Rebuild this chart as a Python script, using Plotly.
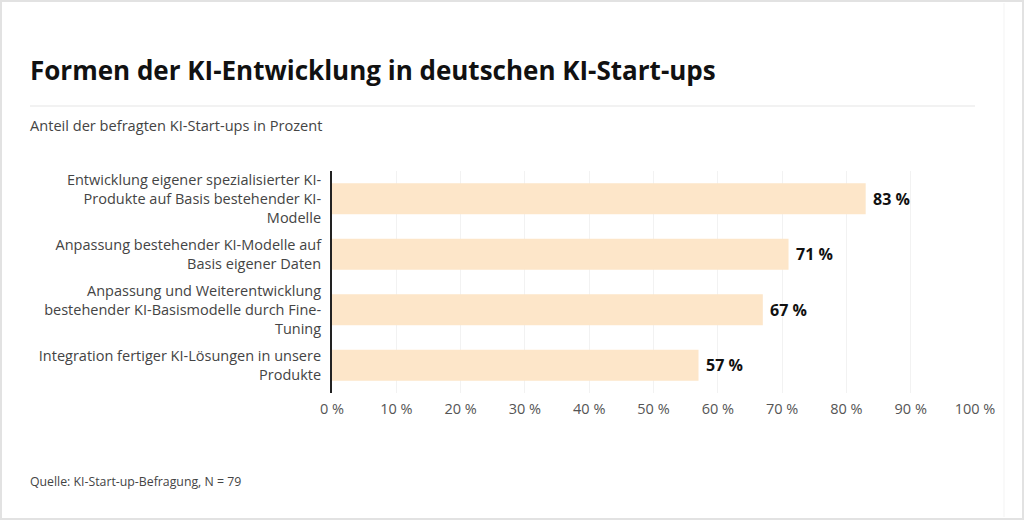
import plotly.graph_objects as go

categories = [
    "Entwicklung eigener spezialisierter KI-<br>Produkte auf Basis bestehender KI-<br>Modelle",
    "Anpassung bestehender KI-Modelle auf<br>Basis eigener Daten",
    "Anpassung und Weiterentwicklung<br>bestehender KI-Basismodelle durch Fine-<br>Tuning",
    "Integration fertiger KI-Lösungen in unsere<br>Produkte",
]
values = [83, 71, 67, 57]
x_ticks = [0, 10, 20, 30, 40, 50, 60, 70, 80, 90, 100]
x_tick_labels = [f"{t} %" for t in x_ticks]

FONT = "Open Sans"
BAR_COLOR = "#fde6c9"

fig = go.Figure()
fig.add_trace(go.Bar(
    x=values, y=categories, orientation="h",
    marker=dict(color=BAR_COLOR, line=dict(width=0)),
    hoverinfo="skip",
))

for c, v in zip(categories, values):
    fig.add_annotation(
        x=v, y=c, xref="x", yref="y", text=f"<b>{v} %</b>",
        showarrow=False, xanchor="left", xshift=5,
        font=dict(family=FONT, size=16, color="#111"),
    )

fig.update_layout(
    width=1024, height=520,
    margin=dict(l=332, r=49, t=171, b=127),
    paper_bgcolor="white", plot_bgcolor="white",
    bargap=0.44,
    showlegend=False,
    font=dict(family=FONT, color="#444"),
    xaxis=dict(
        range=[0, 100], tickvals=x_ticks, ticktext=x_tick_labels,
        showgrid=True, gridcolor="#f2f2f2", gridwidth=1,
        zeroline=False, showline=False, ticks="",
        ticklabelstandoff=5,
        tickfont=dict(family=FONT, size=14.5, color="#555"),
        fixedrange=True,
    ),
    yaxis=dict(
        autorange="reversed", showgrid=False, zeroline=False,
        showline=True, linecolor="#222", linewidth=2, ticks="",
        ticklabelstandoff=6,
        tickfont=dict(family=FONT, size=14.5, color="#444"),
        fixedrange=True,
    ),
    shapes=[
        dict(type="line", xref="paper", yref="paper", x0=-302/643, x1=1.0,
             y0=(520-127-106)/222, y1=(520-127-106)/222,
             line=dict(color="#eeeeee", width=1.5)),
        dict(type="rect", xref="paper", yref="paper",
             x0=-331/643, x1=(1023-332)/643, y0=(520-127-519)/222, y1=(520-127-1)/222,
             line=dict(color="#e2e2e2", width=2)),
        dict(type="line", xref="paper", yref="paper",
             x0=(1004-332)/643, x1=(1004-332)/643, y0=(520-127-517)/222, y1=(520-127-3)/222,
             line=dict(color="#f3f3f3", width=1)),
    ],
    annotations=list(fig.layout.annotations) + [
        dict(text="<b>Formen der KI-Entwicklung in deutschen KI-Start-ups</b>",
             xref="paper", yref="paper", x=-304/643, y=(520-127-70)/222,
             xanchor="left", yanchor="middle", showarrow=False,
             font=dict(family=FONT, size=26, color="#111")),
        dict(text="Anteil der befragten KI-Start-ups in Prozent",
             xref="paper", yref="paper", x=-304/643, y=(520-127-125)/222,
             xanchor="left", yanchor="middle", showarrow=False,
             font=dict(family=FONT, size=14.6, color="#444")),
        dict(text="Quelle: KI-Start-up-Befragung, N = 79",
             xref="paper", yref="paper", x=-304/643, y=(520-127-481)/222,
             xanchor="left", yanchor="middle", showarrow=False,
             font=dict(family=FONT, size=12.3, color="#444")),
    ],
)

fig.write_html("out.html", config={"displayModeBar": False},
               post_script="document.body.style.margin='0';document.body.style.padding='0';")
